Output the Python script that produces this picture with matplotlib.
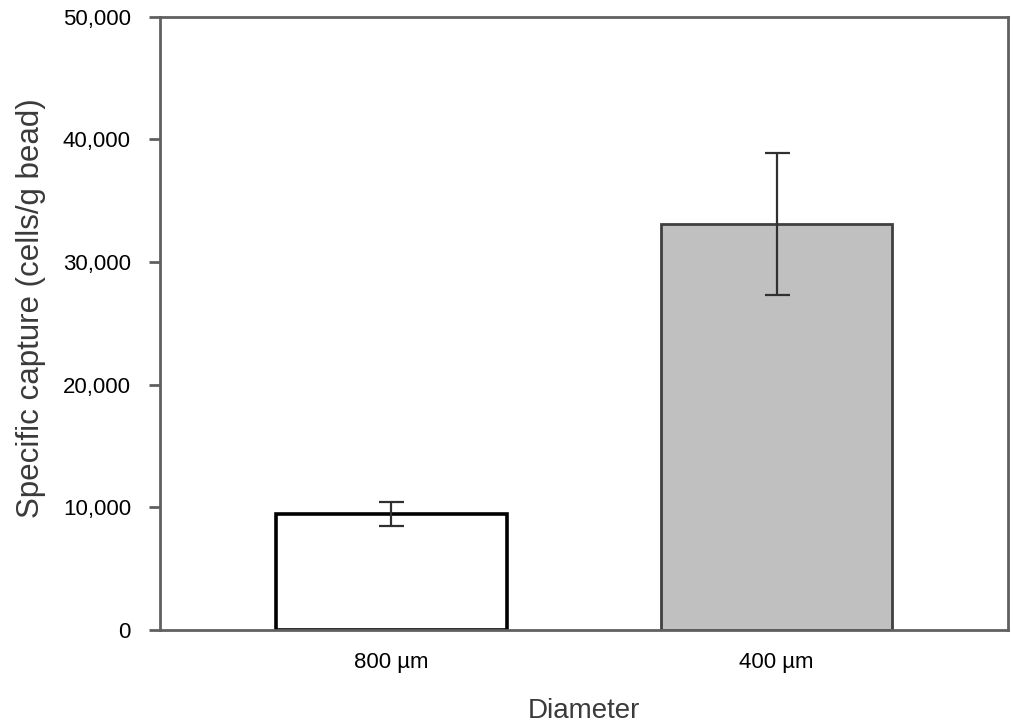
import numpy as np
import matplotlib
matplotlib.use('Agg')
import matplotlib.pyplot as plt
from matplotlib.ticker import FuncFormatter

plt.rcParams['font.family'] = ['Liberation Sans', 'DejaVu Sans']

# data
diameters = ['800 µm', '400 µm']
capture   = [9450, 33100]
capture_err = [1000, 5800]
bar_colors = ['white', '#c0c0c0']
edge_colors = ['black', '#404040']

fig = plt.figure(figsize=(10.13, 7.25), dpi=100, facecolor='white')
ax = fig.add_axes([0.158, 0.131, 0.837, 0.846])

x = np.arange(len(diameters))
for i in range(len(diameters)):
  ax.bar(x[i], capture[i], width=0.6, color=bar_colors[i],
         edgecolor=edge_colors[i], linewidth=2.6 if i == 0 else 2.0, zorder=2)
ax.errorbar(x, capture, yerr=capture_err, fmt='none', ecolor='#303030',
            elinewidth=1.6, capsize=9, capthick=1.6, zorder=3)

ax.set_xlim(-0.6, 1.6)
ax.set_ylim(0, 50000)
ax.set_yticks(np.arange(0, 50001, 10000))
ax.yaxis.set_major_formatter(FuncFormatter(lambda v, p: '{:,.0f}'.format(v)))
ax.set_xticks(x)
ax.set_xticklabels(diameters)

for s in ax.spines.values():
  s.set_color('#606060')
  s.set_linewidth(2.0)
ax.tick_params(axis='y', direction='out', length=8, width=2.0, color='#606060',
               labelsize=16, pad=13, labelcolor='black')
ax.tick_params(axis='x', length=0, labelsize=16, pad=16, labelcolor='black')

ax.set_ylabel('Specific capture (cells/g bead)', fontsize=22.5, color='#3a3a3a')
ax.yaxis.set_label_coords(-0.135, 0.525)
ax.set_xlabel('Diameter', fontsize=20, color='#3a3a3a', labelpad=18)

fig.savefig('out.png', dpi=100, facecolor='white')
